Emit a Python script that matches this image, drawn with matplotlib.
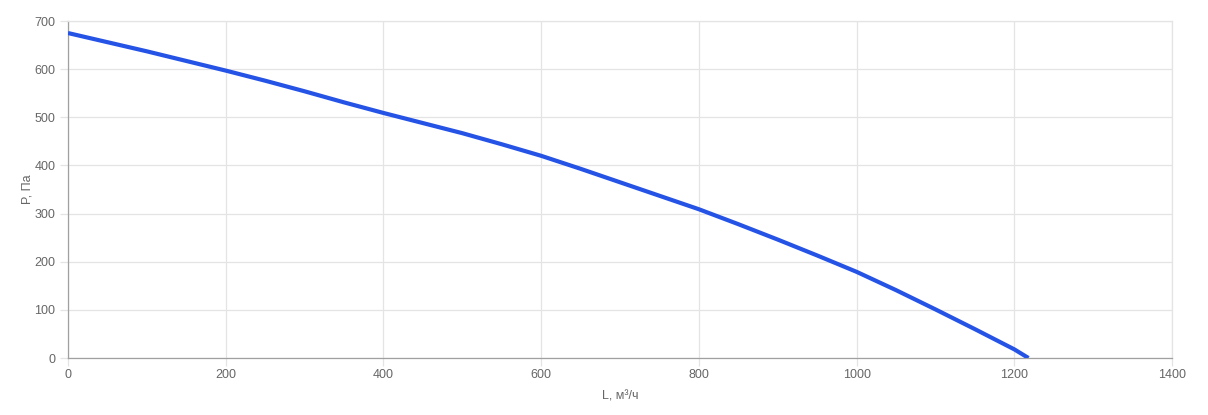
import matplotlib.pyplot as plt

# fan curve
flow = [0, 50, 100, 150, 200, 250, 300, 350, 400, 450, 500, 550, 600, 650,
        700, 750, 800, 850, 900, 950, 1000, 1050, 1100, 1150, 1200, 1218]
pressure = [675, 656, 637, 617, 597, 576, 554, 531, 509, 488, 467, 444, 420, 393,
            365, 337, 309, 278, 246, 213, 179, 141, 101, 60, 18, 0]

x_ticks = [0, 200, 400, 600, 800, 1000, 1200, 1400]
y_ticks = [0, 100, 200, 300, 400, 500, 600, 700]

plt.rcParams['font.family'] = ['Liberation Sans', 'DejaVu Sans']

W, H = 1208, 415
fig = plt.figure(figsize=(W / 100, H / 100), dpi=100)
ax = fig.add_axes([68 / W, 1 - 358 / H, (1172 - 68) / W, (358 - 21) / H])

grid_col = '#e4e4e4'
text_col = '#666666'

ax.plot(flow, pressure, color='#2553e6', linewidth=3.0, solid_capstyle='butt',
        solid_joinstyle='round', zorder=3)

ax.set_xlim(0, 1400)
ax.set_ylim(0, 700)
ax.set_xticks(x_ticks)
ax.set_yticks(y_ticks)
ax.grid(True, color=grid_col, linewidth=0.9)
ax.set_axisbelow(True)

for side in ('top', 'right'):
    ax.spines[side].set_color(grid_col)
    ax.spines[side].set_linewidth(0.9)
for side in ('left', 'bottom'):
    ax.spines[side].set_color('#a0a0a0')
    ax.spines[side].set_linewidth(0.9)

ax.tick_params(axis='both', length=6, width=0.9, color=grid_col,
               labelcolor=text_col, labelsize=9)
ax.tick_params(axis='x', pad=2)
ax.tick_params(axis='y', pad=3)

ax.set_xlabel('L, м³/ч', color=text_col, fontsize=9, labelpad=7)
ax.set_ylabel('P, Па', color=text_col, fontsize=9, labelpad=1)

fig.savefig('out.png', dpi=100)
